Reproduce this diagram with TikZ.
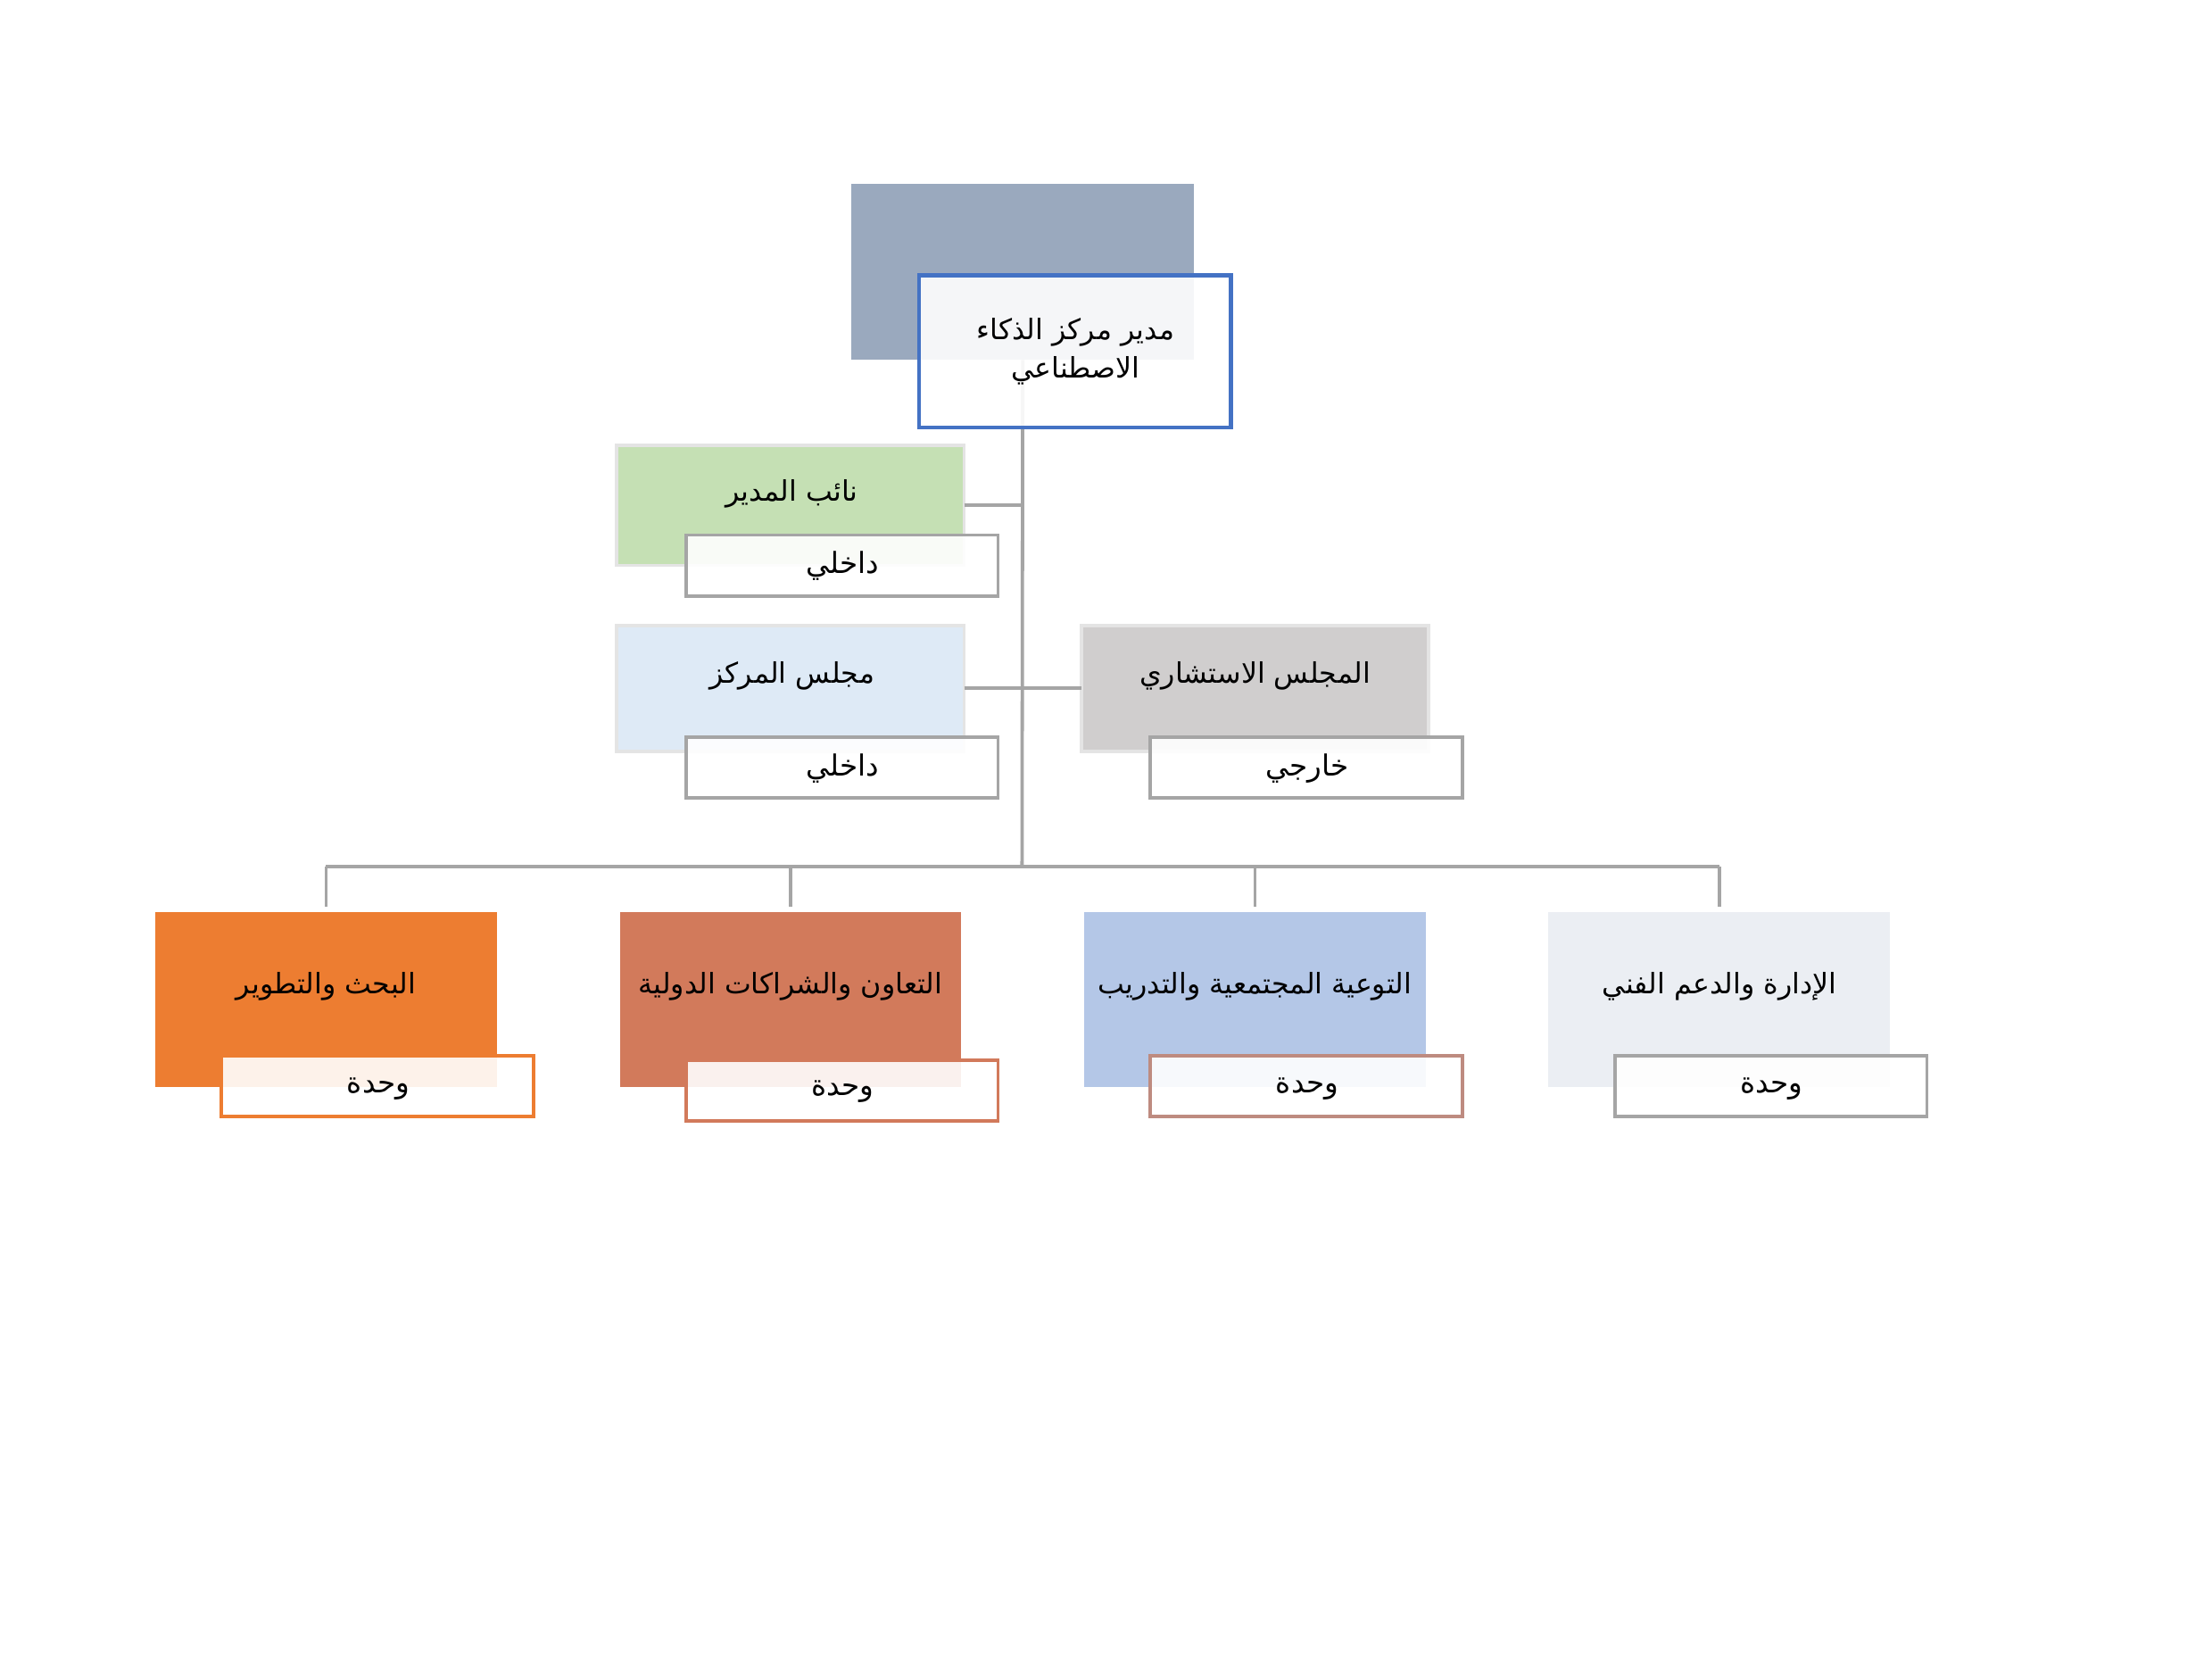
\documentclass[tikz,border=0pt]{standalone}
\usepackage{fontspec}
\setmainfont{DejaVu Sans}
\newfontfamily\arfont[Script=Arabic]{DejaVu Sans}
\TeXXeTstate=1
\newcommand{\artx}[1]{\beginR#1\endR}
\definecolor{topgrey}{HTML}{9AA9BE}
\definecolor{bluebd}{HTML}{4472C4}
\definecolor{lnk}{HTML}{A5A5A5}
\definecolor{greenf}{HTML}{C5E0B4}
\definecolor{lbluef}{HTML}{DEEAF6}
\definecolor{greyf}{HTML}{D0CECE}
\definecolor{orangef}{HTML}{ED7D31}
\definecolor{coralf}{HTML}{D27A5B}
\definecolor{periw}{HTML}{B4C7E7}
\definecolor{palef}{HTML}{EBEEF3}
\definecolor{brownbd}{HTML}{BE8B80}
\definecolor{softbd}{HTML}{E4E4E4}
\tikzset{
  base/.style={rectangle, inner sep=0pt, outer sep=0pt},
  bigbox/.style={base, minimum width=121pt, minimum height=62pt},
  midbox/.style={base, minimum width=123pt, draw=softbd, line width=1.2pt},
  subbox/.style={base, minimum width=110.5pt, minimum height=21.5pt, fill=white, fill opacity=0.9, text opacity=1, line width=1.2pt},
  maintxt/.style={inner sep=0pt, font=\fontsize{10}{13.5}\arfont, align=center},
  subtxt/.style={inner sep=0pt, font=\fontsize{10.3}{13}\arfont},
  conn/.style={draw=lnk, line width=1.2pt}
}
\begin{document}
\begin{tikzpicture}[x=0.5pt, y=-0.5pt]
\useasboundingbox (0,0) rectangle (1567,1181);
\fill[white] (0,0) rectangle (1567,1181);

% top
\node[base, fill=topgrey, minimum width=121.5pt, minimum height=62.5pt] (topg) at (724.5,192.5) {};
\coordinate (bus) at (724,614);
\draw[conn] (topg.south) -- (bus);
\node[base, draw=bluebd, line width=1.3pt, fill=white, fill opacity=0.9, minimum width=110.5pt, minimum height=54pt] (dir) at (761.5,249) {};
\node[maintxt] (dirt) at (762,249) {\artx{مدير مركز الذكاء}\\\artx{الاصطناعي}};

% deputy
\node[midbox, fill=greenf, minimum height=42.5pt] (dep) at (560,358) {};
\coordinate (jdep) at (724,358);
\draw[conn] (dep.east) -- (jdep);
\node[maintxt] (dept) at (561,350) {\artx{نائب المدير}};
\node[subbox, draw=lnk] (deps) at (596.5,400.5) {};
\node[subtxt] (depst) at (597,401) {\artx{داخلي}};

% councils
\node[midbox, fill=lbluef, minimum height=44.5pt] (cb) at (560,487.5) {};
\node[midbox, fill=greyf, minimum height=44.5pt] (ab) at (889,487.5) {};
\draw[conn] (cb.east) -- (ab.west);
\node[maintxt] (cbt) at (561,479) {\artx{مجلس المركز}};
\node[maintxt] (abt) at (889,479) {\artx{المجلس الاستشاري}};
\node[subbox, draw=lnk] (cbs) at (596.5,543.5) {};
\node[subtxt] (cbst) at (597,544) {\artx{داخلي}};
\node[subbox, draw=lnk] (abs) at (925.5,543.5) {};
\node[subtxt] (abst) at (926,544) {\artx{خارجي}};

% bus
\coordinate (busL) at (231,614);
\coordinate (busR) at (1218,614);
\draw[conn] (busL) -- (busR);

% units
\node[bigbox, fill=orangef] (u1) at (231,708) {};
\node[bigbox, fill=coralf] (u2) at (560,708) {};
\node[bigbox, fill=periw] (u3) at (889,708) {};
\node[bigbox, fill=palef] (u4) at (1218,708) {};
\foreach \u in {u1,u2,u3,u4}{
  \draw[conn] (\u.north |- busL) -- ([yshift=2pt]\u.north);
}
\node[maintxt] (u1t) at (231,699) {\artx{البحث والتطوير}};
\node[maintxt] (u2t) at (560,699) {\artx{التعاون والشراكات الدولية}};
\node[maintxt] (u3t) at (889,699) {\artx{التوعية المجتمعية والتدريب}};
\node[maintxt] (u4t) at (1218,699) {\artx{الإدارة والدعم الفني}};

\node[subbox, draw=orangef] (u1s) at (267.5,769.5) {};
\node[subbox, draw=coralf] (u2s) at (596.5,772.5) {};
\node[subbox, draw=brownbd] (u3s) at (925.5,769.5) {};
\node[subbox, draw=lnk] (u4s) at (1254.5,769.5) {};
\node[subtxt] (u1st) at (268,771) {\artx{وحدة}};
\node[subtxt] (u2st) at (597,773) {\artx{وحدة}};
\node[subtxt] (u3st) at (926,771) {\artx{وحدة}};
\node[subtxt] (u4st) at (1255,771) {\artx{وحدة}};
\end{tikzpicture}
\end{document}
